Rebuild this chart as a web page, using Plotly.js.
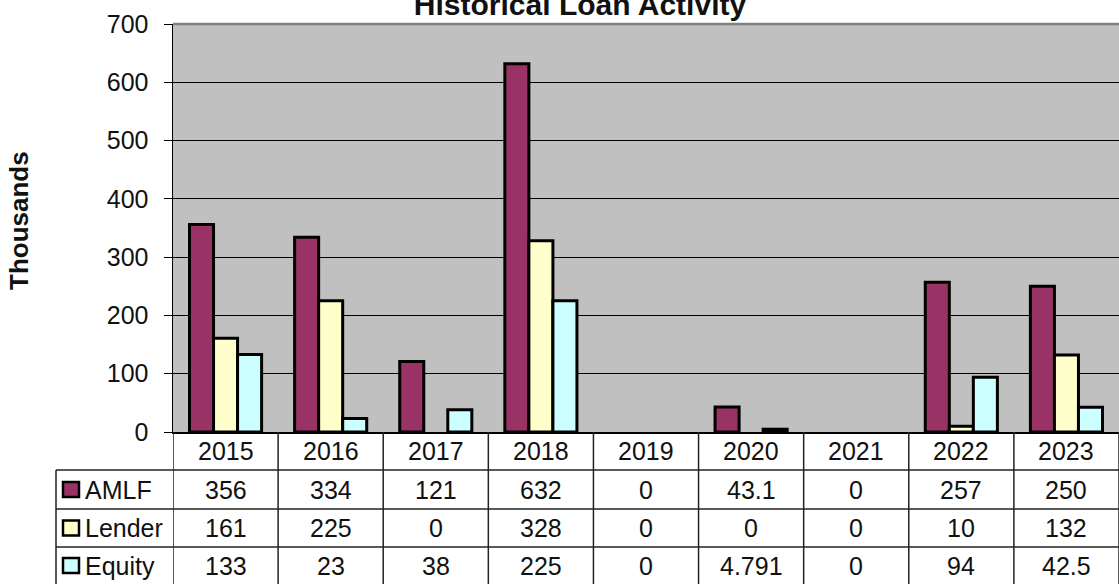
<!DOCTYPE html>
<html>
<head>
<meta charset="utf-8">
<script src="https://cdn.plot.ly/plotly-3.0.1.min.js"></script>
<style>html,body{margin:0;padding:0;background:#fff;}#chart{width:1119px;height:584px;}</style>
</head>
<body>
<div id="chart"></div>
<script>
// ---- data ----
var years = ['2015','2016','2017','2018','2019','2020','2021','2022','2023'];
var amlf   = [356, 334, 121, 632, 0, 43.1, 0, 257, 250];
var lender = [161, 225, 0, 328, 0, 0, 0, 10, 132];
var equity = [133, 23, 38, 225, 0, 4.791, 0, 94, 42.5];
var seriesNames = ['AMLF', 'Lender', 'Equity'];
var seriesValues = [amlf, lender, equity];
var seriesColors = ['#993366', '#FFFFCC', '#CCFFFF'];
var yTicks = [0, 100, 200, 300, 400, 500, 600, 700];

// ---- geometry helpers (pixel -> paper) ----
var W = 1119, H = 584, ML = 173, MR = 0, MT = 24, MB = 152;
var PW = W - ML - MR, PH = H - MT - MB;
function px(x) { return (x - ML) / PW; }
function py(y) { return (H - MB - y) / PH; }

var FONT = 'Liberation Sans, Arial, sans-serif';

var traces = seriesNames.map(function (name, i) {
  return {
    type: 'bar', name: name, x: years, y: seriesValues[i],
    marker: { color: seriesColors[i],
      line: { color: '#000', width: seriesValues[i].map(function (v) { return v === 0 ? 0 : 3; }) } },
    hoverinfo: 'x+y+name'
  };
});

// table rows: header row + 3 data rows (pixel boundaries)
var rowTops = [432, 470, 509, 547, 584];
var shapes = [];
var annotations = [];

// vertical table lines at category boundaries (category index coordinates)
for (var i = 0; i <= years.length; i++) {
  shapes.push({ type: 'line', xref: 'x', yref: 'paper', x0: i - 0.5, x1: i - 0.5,
    y0: py(432), y1: py(590), line: { color: '#222', width: 1.5 }, layer: 'above' });
}
// left border of row label column
shapes.push({ type: 'line', xref: 'paper', yref: 'paper', x0: px(56), x1: px(56),
  y0: py(470), y1: py(590), line: { color: '#222', width: 1.5 } });
// horizontal table lines
[470, 509, 547].forEach(function (y) {
  shapes.push({ type: 'line', xref: 'paper', yref: 'paper', x0: px(56), x1: 1,
    y0: py(y), y1: py(y), line: { color: '#222', width: 1.5 } });
});
// plot area top border
shapes.push({ type: 'line', xref: 'paper', yref: 'paper', x0: 0, x1: 1, y0: 1, y1: 1,
  line: { color: '#808080', width: 2.5 }, layer: 'above' });

// header cells (years)
years.forEach(function (yr, c) {
  annotations.push({ xref: 'x', yref: 'paper', x: c, y: py((rowTops[0] + rowTops[1]) / 2),
    text: yr, showarrow: false, xanchor: 'center', yanchor: 'middle',
    font: { family: FONT, size: 25, color: '#111' } });
});
// data rows
seriesNames.forEach(function (name, r) {
  var yc = py((rowTops[r + 1] + rowTops[r + 2]) / 2);
  // legend key
  shapes.push({ type: 'rect', xref: 'paper', yref: 'paper',
    x0: px(63), x1: px(79), y0: yc - 7.5 / PH, y1: yc + 7.5 / PH,
    fillcolor: seriesColors[r], line: { color: '#000', width: 2.5 } });
  annotations.push({ xref: 'paper', yref: 'paper', x: px(83), y: yc, text: name,
    showarrow: false, xanchor: 'left', yanchor: 'middle',
    font: { family: FONT, size: 25, color: '#111' } });
  seriesValues[r].forEach(function (v, c) {
    annotations.push({ xref: 'x', yref: 'paper', x: c, y: yc, text: String(v),
      showarrow: false, xanchor: 'center', yanchor: 'middle',
      font: { family: FONT, size: 25, color: '#111' } });
  });
});
// y-axis title
annotations.push({ xref: 'paper', yref: 'paper', x: px(19), y: py(221),
  text: '<b>Thousands</b>', textangle: -90, showarrow: false,
  xanchor: 'center', yanchor: 'middle', font: { family: FONT, size: 26, color: '#111' } });

var layout = {
  width: W, height: H,
  margin: { l: ML, r: MR, t: MT, b: MB, pad: 0 },
  paper_bgcolor: '#fff', plot_bgcolor: '#C0C0C0',
  title: { text: '<b>Historical Loan Activity</b>', xref: 'container', yref: 'container',
    x: 580 / W, y: 1 - 4.5 / H, xanchor: 'center', yanchor: 'middle',
    font: { family: FONT, size: 30, color: '#111' } },
  barmode: 'group', bargap: 0.314, bargroupgap: 0,
  showlegend: false,
  xaxis: { type: 'category', range: [-0.5, years.length - 0.5], showticklabels: false,
    ticks: '', showgrid: false, showline: true, linecolor: '#000', linewidth: 1.5,
    zeroline: false, fixedrange: true },
  yaxis: { range: [0, 700], tickvals: yTicks, ticks: 'outside', ticklen: 8, tickcolor: '#000',
    tickwidth: 1, showline: true, linecolor: '#000', linewidth: 1.5, showgrid: true,
    gridcolor: '#000', gridwidth: 1, zeroline: false, ticklabelstandoff: 10,
    tickfont: { family: FONT, size: 25, color: '#111' }, fixedrange: true },
  shapes: shapes, annotations: annotations
};

Plotly.newPlot('chart', traces, layout, { displayModeBar: false, staticPlot: true });
</script>
</body>
</html>
